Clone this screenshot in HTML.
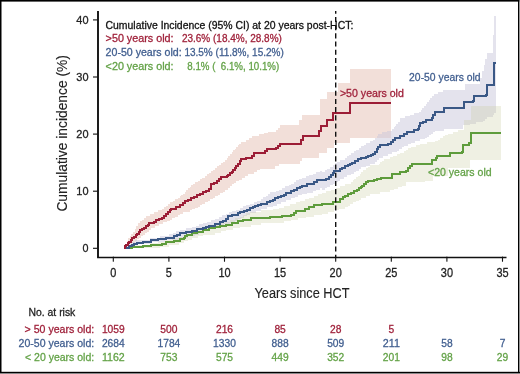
<!DOCTYPE html>
<html><head><meta charset="utf-8"><style>
html,body{margin:0;padding:0;background:#fff;}
body{width:520px;height:374px;overflow:hidden;position:relative;}
svg{position:absolute;left:0;top:0;font-family:"Liberation Sans",sans-serif;will-change:transform;}
</style></head><body>
<svg width="520" height="374" viewBox="0 0 520 374" shape-rendering="geometricPrecision">
<rect x="0" y="0" width="520" height="374" fill="#fff"/>
<polygon points="124.0,248.0 126.0,248.0 126.0,245.0 127.0,245.0 127.0,241.0 128.0,241.0 128.0,238.0 130.0,238.0 130.0,236.0 131.0,236.0 131.0,234.0 133.0,234.0 133.0,232.0 135.0,232.0 135.0,229.0 136.0,229.0 136.0,226.0 138.0,226.0 138.0,223.0 140.0,223.0 140.0,221.0 142.0,221.0 142.0,220.0 144.0,220.0 144.0,218.0 146.0,218.0 146.0,216.0 150.0,216.0 150.0,214.0 154.0,214.0 154.0,212.0 158.0,212.0 158.0,210.0 162.0,210.0 162.0,209.0 164.0,209.0 164.0,207.0 166.0,207.0 166.0,206.0 168.0,206.0 168.0,204.0 170.0,204.0 170.0,202.0 173.0,202.0 173.0,201.0 175.0,201.0 175.0,199.0 178.0,199.0 178.0,198.0 180.0,198.0 180.0,196.0 181.0,196.0 181.0,195.0 183.0,195.0 183.0,194.0 185.0,194.0 185.0,192.0 186.0,192.0 186.0,190.0 188.0,190.0 188.0,188.0 190.0,188.0 190.0,187.0 191.0,187.0 191.0,185.0 193.0,185.0 193.0,184.0 195.0,184.0 195.0,182.0 198.0,182.0 198.0,181.0 200.0,181.0 200.0,179.0 202.0,179.0 202.0,178.0 205.0,178.0 205.0,176.0 207.0,176.0 207.0,174.0 209.0,174.0 209.0,173.0 211.0,173.0 211.0,171.0 213.0,171.0 213.0,170.0 215.0,170.0 215.0,168.0 217.0,168.0 217.0,166.0 219.0,166.0 219.0,165.0 221.0,165.0 221.0,163.0 223.0,163.0 223.0,162.0 225.0,162.0 225.0,160.0 227.0,160.0 227.0,158.0 228.0,158.0 228.0,156.0 230.0,156.0 230.0,154.0 232.0,154.0 232.0,152.0 233.0,152.0 233.0,150.0 235.0,150.0 235.0,149.0 236.0,149.0 236.0,147.0 238.0,147.0 238.0,145.0 239.0,145.0 239.0,144.0 241.0,144.0 241.0,142.0 246.0,142.0 246.0,140.0 249.0,140.0 249.0,138.0 252.0,138.0 252.0,136.0 259.0,136.0 259.0,134.0 264.0,134.0 264.0,133.0 268.0,133.0 268.0,132.0 276.0,132.0 276.0,130.0 278.0,130.0 278.0,128.0 280.0,128.0 280.0,125.0 299.0,125.0 299.0,120.0 302.0,120.0 302.0,115.0 320.0,115.0 320.0,99.0 327.0,99.0 327.0,92.0 338.0,92.0 338.0,83.0 350.0,83.0 350.0,69.0 391.0,69.0 391.0,138.0 350.0,138.0 350.0,143.0 334.0,143.0 334.0,148.0 327.0,148.0 327.0,153.0 319.0,153.0 319.0,158.0 302.0,158.0 302.0,161.0 300.0,161.0 300.0,164.0 279.0,164.0 279.0,166.0 275.0,166.0 275.0,168.0 275.0,169.0 260.0,169.0 260.0,170.0 257.0,170.0 257.0,172.0 254.0,172.0 254.0,174.0 248.0,174.0 248.0,176.0 245.0,176.0 245.0,178.0 242.0,178.0 242.0,180.0 239.0,180.0 239.0,181.0 236.0,181.0 236.0,183.0 234.0,183.0 234.0,184.0 232.0,184.0 232.0,186.0 230.0,186.0 230.0,188.0 228.0,188.0 228.0,190.0 225.0,190.0 225.0,192.0 223.0,192.0 223.0,193.0 220.0,193.0 220.0,195.0 218.0,195.0 218.0,196.0 215.0,196.0 215.0,198.0 213.0,198.0 213.0,199.0 210.0,199.0 210.0,201.0 208.0,201.0 208.0,202.0 205.0,202.0 205.0,204.0 202.0,204.0 202.0,205.0 200.0,205.0 200.0,207.0 198.0,207.0 198.0,208.0 195.0,208.0 195.0,209.0 192.0,209.0 192.0,210.0 190.0,210.0 190.0,212.0 183.0,212.0 183.0,214.0 180.0,214.0 180.0,215.0 178.0,215.0 178.0,217.0 175.0,217.0 175.0,218.0 172.0,218.0 172.0,220.0 170.0,220.0 170.0,221.0 167.0,221.0 167.0,222.0 163.0,222.0 163.0,224.0 159.0,224.0 159.0,226.0 155.0,226.0 155.0,228.0 151.0,228.0 151.0,230.0 149.0,230.0 149.0,232.0 147.0,232.0 147.0,233.0 145.0,233.0 145.0,235.0 143.0,235.0 143.0,236.0 141.0,236.0 141.0,238.0 139.0,238.0 139.0,239.0 137.0,239.0 137.0,241.0 135.0,241.0 135.0,243.0 132.0,243.0 132.0,244.0 129.0,244.0 129.0,246.0 127.0,246.0 127.0,248.0 124.0,248.0" fill="#f2dfd9"/>
<polygon points="124.0,248.0 125.0,248.0 125.0,246.0 128.0,246.0 128.0,244.0 132.0,244.0 132.0,242.0 135.0,242.0 135.0,240.0 150.0,240.0 150.0,238.0 160.0,238.0 160.0,236.0 169.0,236.0 169.0,234.0 173.0,234.0 173.0,233.0 176.0,233.0 176.0,231.0 180.0,231.0 180.0,230.0 186.0,230.0 186.0,228.0 192.0,228.0 192.0,227.0 196.0,227.0 196.0,226.0 199.0,226.0 199.0,224.0 203.0,224.0 203.0,223.0 207.0,223.0 207.0,222.0 211.0,222.0 211.0,220.0 215.0,220.0 215.0,219.0 219.0,219.0 219.0,217.0 222.0,217.0 222.0,215.0 226.0,215.0 226.0,214.0 229.0,214.0 229.0,212.0 232.0,212.0 232.0,211.0 236.0,211.0 236.0,210.0 240.0,210.0 240.0,208.0 243.0,208.0 243.0,206.0 246.0,206.0 246.0,205.0 250.0,205.0 250.0,204.0 254.0,204.0 254.0,202.0 257.0,202.0 257.0,201.0 261.0,201.0 261.0,199.0 263.0,199.0 263.0,197.0 266.0,197.0 266.0,196.0 268.0,196.0 268.0,194.0 270.0,194.0 270.0,192.0 276.0,192.0 276.0,191.0 279.0,191.0 279.0,190.0 282.0,190.0 282.0,188.0 285.0,188.0 285.0,186.0 289.0,186.0 289.0,185.0 291.0,185.0 291.0,184.0 294.0,184.0 294.0,182.0 296.0,182.0 296.0,180.0 299.0,180.0 299.0,179.0 302.0,179.0 302.0,178.0 306.0,178.0 306.0,176.0 309.0,176.0 309.0,175.0 313.0,175.0 313.0,174.0 316.0,174.0 316.0,172.0 320.0,172.0 320.0,171.0 322.0,171.0 322.0,172.0 325.0,172.0 325.0,170.0 327.0,170.0 327.0,169.0 330.0,169.0 330.0,167.0 333.0,167.0 333.0,165.0 335.0,165.0 335.0,163.0 337.0,163.0 337.0,162.0 340.0,162.0 340.0,160.0 345.0,160.0 345.0,158.0 347.0,158.0 347.0,156.0 349.0,156.0 349.0,155.0 351.0,155.0 351.0,153.0 354.0,153.0 354.0,151.0 356.0,151.0 356.0,150.0 359.0,150.0 359.0,148.0 361.0,148.0 361.0,146.0 364.0,146.0 364.0,145.0 366.0,145.0 366.0,143.0 370.0,143.0 370.0,141.0 373.0,141.0 373.0,140.0 375.0,140.0 375.0,138.0 377.0,138.0 377.0,136.0 378.0,136.0 378.0,134.0 382.0,134.0 382.0,132.0 387.0,132.0 387.0,131.0 392.0,131.0 392.0,129.0 394.0,129.0 394.0,127.0 395.0,127.0 395.0,126.0 396.0,126.0 396.0,124.0 398.0,124.0 398.0,122.0 400.0,122.0 400.0,118.0 405.0,118.0 405.0,116.0 410.0,116.0 410.0,115.0 414.0,115.0 414.0,113.0 419.0,113.0 419.0,112.0 421.0,112.0 421.0,110.0 422.0,110.0 422.0,108.0 424.0,108.0 424.0,106.0 426.0,106.0 426.0,104.0 427.0,104.0 427.0,102.0 429.0,102.0 429.0,100.0 430.0,100.0 430.0,98.0 432.0,98.0 432.0,96.0 434.0,96.0 434.0,94.0 438.0,94.0 438.0,92.0 443.0,92.0 443.0,90.0 464.0,90.0 465.0,90.0 465.0,84.0 479.0,84.0 480.0,84.0 480.0,78.0 482.0,78.0 482.0,71.0 484.0,71.0 484.0,65.0 485.0,65.0 485.0,59.0 487.0,59.0 487.0,53.0 493.0,53.0 493.0,52.0 493.0,35.0 494.0,35.0 494.0,34.0 494.0,16.0 496.0,16.0 496.0,111.0 496.0,113.0 494.0,113.0 494.0,115.0 493.0,115.0 493.0,117.0 487.0,117.0 487.0,119.0 485.0,119.0 485.0,121.0 483.0,121.0 483.0,122.0 476.0,122.0 476.0,124.0 470.0,124.0 470.0,125.0 463.0,125.0 463.0,129.0 444.0,129.0 444.0,131.0 435.0,131.0 435.0,132.0 433.0,132.0 433.0,134.0 431.0,134.0 431.0,135.0 429.0,135.0 429.0,137.0 427.0,137.0 427.0,138.0 425.0,138.0 425.0,139.0 420.0,139.0 420.0,141.0 415.0,141.0 415.0,143.0 411.0,143.0 411.0,144.0 408.0,144.0 408.0,146.0 404.0,146.0 404.0,147.0 402.0,147.0 402.0,149.0 399.0,149.0 399.0,151.0 397.0,151.0 397.0,152.0 392.0,152.0 392.0,154.0 388.0,154.0 388.0,156.0 383.0,156.0 383.0,158.0 379.0,158.0 379.0,160.0 377.0,160.0 377.0,162.0 375.0,162.0 375.0,164.0 370.0,164.0 370.0,166.0 366.0,166.0 366.0,167.0 361.0,167.0 361.0,169.0 359.0,169.0 359.0,171.0 356.0,171.0 356.0,172.0 354.0,172.0 354.0,174.0 351.0,174.0 351.0,175.0 347.0,175.0 347.0,177.0 344.0,177.0 344.0,179.0 340.0,179.0 340.0,181.0 338.0,181.0 338.0,182.0 335.0,182.0 335.0,184.0 333.0,184.0 333.0,185.0 330.0,185.0 330.0,187.0 327.0,187.0 327.0,188.0 325.0,188.0 325.0,190.0 322.0,190.0 322.0,188.0 320.0,188.0 320.0,190.0 316.0,190.0 316.0,191.0 313.0,191.0 313.0,193.0 307.0,193.0 307.0,194.0 302.0,194.0 302.0,195.0 298.0,195.0 298.0,197.0 295.0,197.0 295.0,198.0 291.0,198.0 291.0,200.0 286.0,200.0 286.0,202.0 281.0,202.0 281.0,204.0 277.0,204.0 277.0,206.0 273.0,206.0 273.0,207.0 267.0,207.0 267.0,209.0 261.0,209.0 261.0,211.0 256.0,211.0 256.0,213.0 250.0,213.0 250.0,215.0 247.0,215.0 247.0,216.0 244.0,216.0 244.0,218.0 241.0,218.0 241.0,219.0 238.0,219.0 238.0,221.0 235.0,221.0 235.0,223.0 230.0,223.0 230.0,224.0 224.0,224.0 224.0,226.0 219.0,226.0 219.0,228.0 214.0,228.0 214.0,229.0 208.0,229.0 208.0,231.0 203.0,231.0 203.0,233.0 199.0,233.0 199.0,235.0 195.0,235.0 195.0,236.0 188.0,236.0 188.0,238.0 180.0,238.0 180.0,240.0 165.0,240.0 165.0,242.0 150.0,242.0 150.0,244.0 135.0,244.0 135.0,246.0 130.0,246.0 130.0,248.0 124.0,248.0" fill="rgb(201,199,219)" fill-opacity="0.5"/>
<polygon points="124.0,248.0 130.0,248.0 130.0,246.0 135.0,246.0 135.0,245.0 150.0,245.0 150.0,243.0 158.0,243.0 158.0,242.0 165.0,242.0 165.0,240.0 172.0,240.0 172.0,238.0 180.0,238.0 180.0,237.0 185.0,237.0 185.0,236.0 190.0,236.0 190.0,234.0 195.0,234.0 195.0,232.0 200.0,232.0 200.0,231.0 204.0,231.0 204.0,229.0 208.0,229.0 208.0,228.0 212.0,228.0 212.0,226.0 216.0,226.0 216.0,225.0 220.0,225.0 220.0,223.0 225.0,223.0 225.0,222.0 230.0,222.0 230.0,220.0 235.0,220.0 235.0,218.0 240.0,218.0 240.0,217.0 243.0,217.0 243.0,215.0 246.0,215.0 246.0,213.0 250.0,213.0 250.0,212.0 261.0,212.0 261.0,210.0 273.0,210.0 273.0,209.0 279.0,209.0 279.0,208.0 284.0,208.0 284.0,206.0 290.0,206.0 290.0,204.0 296.0,204.0 296.0,202.0 300.0,202.0 300.0,201.0 305.0,201.0 305.0,199.0 309.0,199.0 309.0,198.0 314.0,198.0 314.0,196.0 318.0,196.0 318.0,194.0 322.0,194.0 322.0,193.0 326.0,193.0 326.0,191.0 331.0,191.0 331.0,190.0 336.0,190.0 336.0,188.0 340.0,188.0 340.0,186.0 345.0,186.0 345.0,184.0 351.0,184.0 351.0,182.0 353.0,182.0 353.0,180.0 354.0,180.0 354.0,179.0 356.0,179.0 356.0,177.0 358.0,177.0 358.0,176.0 360.0,176.0 360.0,174.0 361.0,174.0 361.0,172.0 363.0,172.0 363.0,170.0 366.0,170.0 366.0,168.0 368.0,168.0 368.0,167.0 370.0,167.0 370.0,165.0 379.0,165.0 379.0,164.0 380.0,164.0 380.0,162.0 382.0,162.0 382.0,161.0 384.0,161.0 384.0,159.0 390.0,159.0 390.0,157.0 393.0,157.0 393.0,156.0 397.0,156.0 397.0,154.0 400.0,154.0 400.0,153.0 404.0,153.0 404.0,151.0 406.0,151.0 406.0,150.0 408.0,150.0 408.0,148.0 411.0,148.0 411.0,147.0 416.0,147.0 416.0,145.0 420.0,145.0 420.0,144.0 427.0,144.0 427.0,142.0 435.0,142.0 435.0,141.0 438.0,141.0 438.0,140.0 440.0,140.0 440.0,138.0 443.0,138.0 443.0,136.0 445.0,136.0 445.0,135.0 448.0,135.0 448.0,134.0 453.0,134.0 453.0,132.0 458.0,132.0 458.0,130.0 464.0,130.0 464.0,129.0 464.0,120.0 471.0,120.0 471.0,106.0 501.0,106.0 501.0,160.0 470.0,160.0 470.0,168.0 448.0,168.0 448.0,176.0 433.0,176.0 433.0,181.0 425.0,181.0 425.0,182.0 406.0,182.0 406.0,184.0 406.0,186.0 402.0,186.0 402.0,187.0 398.0,187.0 398.0,189.0 394.0,189.0 394.0,190.0 390.0,190.0 390.0,192.0 380.0,192.0 380.0,194.0 370.0,194.0 370.0,196.0 366.0,196.0 366.0,198.0 361.0,198.0 361.0,200.0 359.0,200.0 359.0,201.0 356.0,201.0 356.0,202.0 353.0,202.0 353.0,204.0 350.0,204.0 350.0,206.0 348.0,206.0 348.0,207.0 345.0,207.0 345.0,209.0 339.0,209.0 339.0,210.0 334.0,210.0 334.0,212.0 328.0,212.0 328.0,214.0 322.0,214.0 322.0,215.0 314.0,215.0 314.0,217.0 306.0,217.0 306.0,218.0 298.0,218.0 298.0,220.0 291.0,220.0 291.0,221.0 284.0,221.0 284.0,223.0 261.0,223.0 261.0,225.0 251.0,225.0 251.0,227.0 240.0,227.0 240.0,228.0 233.0,228.0 233.0,230.0 226.0,230.0 226.0,231.0 221.0,231.0 221.0,233.0 215.0,233.0 215.0,235.0 203.0,235.0 203.0,236.0 198.0,236.0 198.0,238.0 192.0,238.0 192.0,240.0 188.0,240.0 188.0,241.0 184.0,241.0 184.0,243.0 180.0,243.0 179.0,243.0 179.0,245.0 169.0,245.0 169.0,247.0 160.0,247.0 160.0,248.0 124.0,248.0" fill="rgb(202,205,162)" fill-opacity="0.3"/>
<path d="M124.0,248.0 L132.0,248.0 L132.0,247.0 L143.0,247.0 L143.0,246.0 L151.0,246.0 L151.0,245.0 L162.0,245.0 L162.0,244.0 L166.0,244.0 L166.0,242.0 L174.0,242.0 L174.0,241.0 L180.0,241.0 L180.0,239.0 L184.0,239.0 L184.0,238.0 L185.0,238.0 L185.0,236.0 L187.0,236.0 L187.0,235.0 L192.0,235.0 L192.0,233.0 L197.0,233.0 L197.0,232.0 L203.0,232.0 L203.0,230.0 L209.0,230.0 L209.0,228.0 L215.0,228.0 L215.0,227.0 L220.0,227.0 L220.0,226.0 L226.0,226.0 L226.0,225.0 L232.0,225.0 L232.0,223.0 L238.0,223.0 L238.0,221.0 L240.0,221.0 L243.0,221.0 L243.0,220.0 L251.0,220.0 L251.0,218.0 L259.0,218.0 L270.0,218.0 L270.0,217.0 L282.0,217.0 L282.0,216.0 L291.0,216.0 L291.0,215.0 L294.0,215.0 L294.0,213.0 L296.0,213.0 L296.0,211.0 L305.0,211.0 L305.0,209.0 L309.0,209.0 L309.0,207.0 L314.0,207.0 L314.0,205.0 L322.0,205.0 L322.0,204.0 L333.0,204.0 L333.0,202.0 L340.0,202.0 L340.0,199.0 L343.0,199.0 L343.0,197.0 L345.0,197.0 L345.0,196.0 L348.0,196.0 L348.0,194.0 L351.0,194.0 L351.0,193.0 L354.0,193.0 L354.0,191.0 L357.0,191.0 L357.0,190.0 L359.0,190.0 L359.0,188.0 L361.0,188.0 L361.0,187.0 L362.0,187.0 L362.0,186.0 L364.0,186.0 L364.0,184.0 L366.0,184.0 L366.0,182.0 L368.0,182.0 L368.0,181.0 L374.0,181.0 L374.0,180.0 L377.0,180.0 L377.0,179.0 L381.0,179.0 L381.0,178.0 L392.0,178.0 L392.0,176.0 L392.0,174.0 L400.0,174.0 L400.0,172.0 L406.0,172.0 L406.0,171.0 L408.0,171.0 L408.0,168.0 L410.0,168.0 L410.0,166.0 L412.0,166.0 L412.0,164.0 L432.0,164.0 L432.0,160.0 L436.0,160.0 L436.0,158.0 L437.0,158.0 L437.0,156.0 L449.0,156.0 L450.0,156.0 L450.0,153.0 L462.0,153.0 L462.0,152.0 L463.0,152.0 L463.0,147.0 L463.0,145.0 L469.0,145.0 L469.0,143.0 L471.0,143.0 L471.0,133.0 L501.0,133.0" fill="none" stroke="#5e9c3c" stroke-width="2" stroke-linejoin="miter" stroke-linecap="butt"/>
<path d="M124.0,248.0 L125.0,248.0 L129.0,248.0 L129.0,246.0 L132.0,246.0 L132.0,245.0 L134.0,245.0 L134.0,244.0 L137.0,244.0 L137.0,243.0 L143.0,243.0 L143.0,242.0 L151.0,242.0 L151.0,240.0 L158.0,240.0 L158.0,239.0 L166.0,239.0 L166.0,238.0 L174.0,238.0 L174.0,236.0 L177.0,236.0 L177.0,235.0 L180.0,235.0 L180.0,233.0 L186.0,233.0 L186.0,232.0 L192.0,232.0 L192.0,231.0 L197.0,231.0 L197.0,229.0 L203.0,229.0 L203.0,228.0 L206.0,228.0 L206.0,227.0 L209.0,227.0 L209.0,226.0 L215.0,226.0 L215.0,224.0 L220.0,224.0 L220.0,222.0 L223.0,222.0 L223.0,221.0 L226.0,221.0 L226.0,219.0 L228.0,219.0 L228.0,216.0 L232.0,216.0 L232.0,215.0 L238.0,215.0 L238.0,213.0 L240.0,213.0 L240.0,212.0 L244.0,212.0 L244.0,211.0 L247.0,211.0 L247.0,210.0 L250.0,210.0 L250.0,208.0 L253.0,208.0 L253.0,207.0 L255.0,207.0 L255.0,206.0 L258.0,206.0 L258.0,205.0 L261.0,205.0 L261.0,204.0 L267.0,204.0 L267.0,202.0 L270.0,202.0 L270.0,201.0 L273.0,201.0 L273.0,200.0 L275.0,200.0 L275.0,198.0 L278.0,198.0 L278.0,197.0 L281.0,197.0 L281.0,196.0 L284.0,196.0 L284.0,195.0 L286.0,195.0 L286.0,193.0 L291.0,193.0 L291.0,191.0 L294.0,191.0 L294.0,190.0 L297.0,190.0 L297.0,188.0 L300.0,188.0 L300.0,187.0 L302.0,187.0 L302.0,186.0 L307.0,186.0 L307.0,184.0 L313.0,184.0 L314.0,184.0 L314.0,182.0 L317.0,182.0 L317.0,180.0 L320.0,180.0 L322.0,180.0 L326.0,180.0 L326.0,179.0 L329.0,179.0 L329.0,177.0 L331.0,177.0 L331.0,175.0 L333.0,175.0 L333.0,173.0 L334.0,173.0 L334.0,171.0 L340.0,171.0 L340.0,169.0 L342.0,169.0 L342.0,168.0 L345.0,168.0 L345.0,166.0 L348.0,166.0 L348.0,165.0 L350.0,165.0 L350.0,164.0 L352.0,164.0 L352.0,163.0 L355.0,163.0 L355.0,161.0 L358.0,161.0 L358.0,159.0 L361.0,159.0 L361.0,158.0 L366.0,158.0 L366.0,157.0 L368.0,157.0 L368.0,156.0 L371.0,156.0 L371.0,155.0 L373.0,155.0 L373.0,154.0 L375.0,154.0 L375.0,152.0 L377.0,152.0 L377.0,149.0 L378.0,149.0 L378.0,147.0 L380.0,147.0 L380.0,145.0 L386.0,145.0 L388.0,145.0 L388.0,144.0 L391.0,144.0 L391.0,142.0 L393.0,142.0 L393.0,140.0 L395.0,140.0 L395.0,138.0 L400.0,138.0 L400.0,136.0 L404.0,136.0 L404.0,134.0 L407.0,134.0 L407.0,132.0 L414.0,132.0 L414.0,130.0 L418.0,130.0 L418.0,129.0 L419.0,129.0 L419.0,126.0 L420.0,126.0 L420.0,123.0 L423.0,123.0 L423.0,122.0 L426.0,122.0 L426.0,120.0 L432.0,120.0 L432.0,118.0 L433.0,118.0 L433.0,115.0 L435.0,115.0 L435.0,112.0 L444.0,112.0 L444.0,108.0 L464.0,108.0 L464.0,102.0 L473.0,102.0 L473.0,101.0 L474.0,101.0 L474.0,96.0 L486.0,96.0 L486.0,95.0 L487.0,95.0 L487.0,85.0 L494.0,85.0 L494.0,84.0 L494.0,63.0 L496.0,63.0" fill="none" stroke="#3a5886" stroke-width="2" stroke-linejoin="miter" stroke-linecap="butt"/>
<path d="M124.0,248.0 L125.0,248.0 L125.0,246.0 L126.0,246.0 L126.0,245.0 L128.0,245.0 L128.0,243.0 L129.0,243.0 L129.0,242.0 L131.0,242.0 L131.0,240.0 L132.0,240.0 L132.0,238.0 L134.0,238.0 L134.0,237.0 L136.0,237.0 L136.0,235.0 L137.0,235.0 L137.0,234.0 L139.0,234.0 L139.0,232.0 L140.0,232.0 L140.0,230.0 L142.0,230.0 L142.0,229.0 L144.0,229.0 L144.0,228.0 L146.0,228.0 L146.0,226.0 L148.0,226.0 L148.0,225.0 L149.0,225.0 L149.0,223.0 L154.0,223.0 L154.0,222.0 L156.0,222.0 L156.0,220.0 L159.0,220.0 L159.0,219.0 L162.0,219.0 L162.0,218.0 L164.0,218.0 L164.0,216.0 L166.0,216.0 L166.0,214.0 L168.0,214.0 L168.0,212.0 L170.0,212.0 L170.0,210.0 L171.0,210.0 L171.0,209.0 L176.0,209.0 L176.0,207.0 L180.0,207.0 L180.0,205.0 L183.0,205.0 L183.0,203.0 L185.0,203.0 L185.0,201.0 L188.0,201.0 L188.0,200.0 L191.0,200.0 L191.0,198.0 L194.0,198.0 L194.0,197.0 L197.0,197.0 L197.0,195.0 L200.0,195.0 L200.0,194.0 L203.0,194.0 L203.0,192.0 L206.0,192.0 L206.0,191.0 L209.0,191.0 L209.0,189.0 L211.0,189.0 L211.0,184.0 L214.0,184.0 L214.0,183.0 L217.0,183.0 L217.0,181.0 L219.0,181.0 L219.0,179.0 L221.0,179.0 L221.0,177.0 L227.0,177.0 L227.0,176.0 L228.0,176.0 L228.0,175.0 L230.0,175.0 L230.0,173.0 L232.0,173.0 L232.0,172.0 L233.0,172.0 L233.0,170.0 L235.0,170.0 L235.0,168.0 L236.0,168.0 L236.0,166.0 L238.0,166.0 L238.0,164.0 L240.0,164.0 L240.0,161.0 L241.0,161.0 L241.0,159.0 L246.0,159.0 L246.0,158.0 L252.0,158.0 L252.0,156.0 L254.0,156.0 L254.0,153.0 L265.0,153.0 L265.0,151.0 L267.0,151.0 L267.0,149.0 L276.0,149.0 L276.0,148.0 L278.0,148.0 L278.0,146.0 L280.0,146.0 L280.0,144.0 L299.0,144.0 L301.0,144.0 L301.0,140.0 L303.0,140.0 L303.0,136.0 L319.0,136.0 L319.0,131.0 L321.0,131.0 L321.0,126.0 L327.0,126.0 L327.0,120.0 L333.0,120.0 L333.0,113.0 L350.0,113.0 L350.0,103.0 L391.0,103.0" fill="none" stroke="#9c1d36" stroke-width="2" stroke-linejoin="miter" stroke-linecap="butt"/>
<line x1="335.7" y1="11" x2="335.7" y2="257" stroke="#111" stroke-width="1.4" stroke-dasharray="5.1 3.1" stroke-dashoffset="2.3"/>
<path d="M98,11 V257" fill="none" stroke="#111" stroke-width="1.9"/>
<path d="M97.05,257.5 H506.5" fill="none" stroke="#111" stroke-width="1.45"/>
<line x1="93" y1="248.30" x2="97.5" y2="248.30" stroke="#111" stroke-width="1.1"/>
<line x1="93" y1="191.20" x2="97.5" y2="191.20" stroke="#111" stroke-width="1.1"/>
<line x1="93" y1="134.10" x2="97.5" y2="134.10" stroke="#111" stroke-width="1.1"/>
<line x1="93" y1="77.00" x2="97.5" y2="77.00" stroke="#111" stroke-width="1.1"/>
<line x1="93" y1="19.90" x2="97.5" y2="19.90" stroke="#111" stroke-width="1.1"/>
<line x1="113.30" y1="257" x2="113.30" y2="261.3" stroke="#111" stroke-width="1.1" stroke-linecap="round"/>
<line x1="168.90" y1="257" x2="168.90" y2="261.3" stroke="#111" stroke-width="1.1" stroke-linecap="round"/>
<line x1="224.50" y1="257" x2="224.50" y2="261.3" stroke="#111" stroke-width="1.1" stroke-linecap="round"/>
<line x1="280.10" y1="257" x2="280.10" y2="261.3" stroke="#111" stroke-width="1.1" stroke-linecap="round"/>
<line x1="335.70" y1="257" x2="335.70" y2="261.3" stroke="#111" stroke-width="1.1" stroke-linecap="round"/>
<line x1="391.30" y1="257" x2="391.30" y2="261.3" stroke="#111" stroke-width="1.1" stroke-linecap="round"/>
<line x1="446.90" y1="257" x2="446.90" y2="261.3" stroke="#111" stroke-width="1.1" stroke-linecap="round"/>
<line x1="502.50" y1="257" x2="502.50" y2="261.3" stroke="#111" stroke-width="1.1" stroke-linecap="round"/>
<text x="88.5" y="252.3" font-size="11.6" fill="#222" stroke="#222" stroke-width="0.28" text-anchor="end" textLength="6.0" lengthAdjust="spacingAndGlyphs" xml:space="preserve">0</text>
<text x="88.5" y="195.2" font-size="11.6" fill="#222" stroke="#222" stroke-width="0.28" text-anchor="end" textLength="12.2" lengthAdjust="spacingAndGlyphs" xml:space="preserve">10</text>
<text x="88.5" y="138.1" font-size="11.6" fill="#222" stroke="#222" stroke-width="0.28" text-anchor="end" textLength="12.2" lengthAdjust="spacingAndGlyphs" xml:space="preserve">20</text>
<text x="88.5" y="81.0" font-size="11.6" fill="#222" stroke="#222" stroke-width="0.28" text-anchor="end" textLength="12.2" lengthAdjust="spacingAndGlyphs" xml:space="preserve">30</text>
<text x="88.5" y="23.9" font-size="11.6" fill="#222" stroke="#222" stroke-width="0.28" text-anchor="end" textLength="12.2" lengthAdjust="spacingAndGlyphs" xml:space="preserve">40</text>
<text x="113.3" y="276.6" font-size="12" fill="#222" stroke="#222" stroke-width="0.28" text-anchor="middle" textLength="6.1" lengthAdjust="spacingAndGlyphs" xml:space="preserve">0</text>
<text x="168.9" y="276.6" font-size="12" fill="#222" stroke="#222" stroke-width="0.28" text-anchor="middle" textLength="6.1" lengthAdjust="spacingAndGlyphs" xml:space="preserve">5</text>
<text x="224.5" y="276.6" font-size="12" fill="#222" stroke="#222" stroke-width="0.28" text-anchor="middle" textLength="12.2" lengthAdjust="spacingAndGlyphs" xml:space="preserve">10</text>
<text x="280.1" y="276.6" font-size="12" fill="#222" stroke="#222" stroke-width="0.28" text-anchor="middle" textLength="12.2" lengthAdjust="spacingAndGlyphs" xml:space="preserve">15</text>
<text x="335.7" y="276.6" font-size="12" fill="#222" stroke="#222" stroke-width="0.28" text-anchor="middle" textLength="12.2" lengthAdjust="spacingAndGlyphs" xml:space="preserve">20</text>
<text x="391.3" y="276.6" font-size="12" fill="#222" stroke="#222" stroke-width="0.28" text-anchor="middle" textLength="12.2" lengthAdjust="spacingAndGlyphs" xml:space="preserve">25</text>
<text x="446.9" y="276.6" font-size="12" fill="#222" stroke="#222" stroke-width="0.28" text-anchor="middle" textLength="12.2" lengthAdjust="spacingAndGlyphs" xml:space="preserve">30</text>
<text x="502.5" y="276.6" font-size="12" fill="#222" stroke="#222" stroke-width="0.28" text-anchor="middle" textLength="12.2" lengthAdjust="spacingAndGlyphs" xml:space="preserve">35</text>
<text x="254.5" y="297.9" font-size="14" fill="#222" stroke="#222" stroke-width="0.12" textLength="95" lengthAdjust="spacingAndGlyphs" xml:space="preserve">Years since HCT</text>
<g transform="translate(66.9,211.6) rotate(-90)"><text x="0" y="0" font-size="14" fill="#222" stroke="#222" stroke-width="0.12" textLength="156.5" lengthAdjust="spacingAndGlyphs" xml:space="preserve">Cumulative incidence (%)</text></g>
<text x="105.5" y="28.5" font-size="10.2" fill="#111" stroke="#111" stroke-width="0.28" textLength="247.8" lengthAdjust="spacingAndGlyphs" xml:space="preserve">Cumulative Incidence (95% CI) at 20 years post-HCT:</text>
<text x="105.6" y="42.4" font-size="10.2" fill="#a0223b" stroke="#a0223b" stroke-width="0.28" textLength="68" lengthAdjust="spacingAndGlyphs" xml:space="preserve">&gt;50 years old:</text>
<text x="105.6" y="56.3" font-size="10.2" fill="#405e8f" stroke="#405e8f" stroke-width="0.28" textLength="76" lengthAdjust="spacingAndGlyphs" xml:space="preserve">20-50 years old:</text>
<text x="105.6" y="70.2" font-size="10.2" fill="#63a247" stroke="#63a247" stroke-width="0.28" textLength="68" lengthAdjust="spacingAndGlyphs" xml:space="preserve">&lt;20 years old:</text>
<text x="181.9" y="42.4" font-size="10.2" fill="#a0223b" stroke="#a0223b" stroke-width="0.28" textLength="100" lengthAdjust="spacingAndGlyphs" xml:space="preserve">23.6% (18.4%, 28.8%)</text>
<text x="184.4" y="56.3" font-size="10.2" fill="#405e8f" stroke="#405e8f" stroke-width="0.28" textLength="99.4" lengthAdjust="spacingAndGlyphs" xml:space="preserve">13.5% (11.8%, 15.2%)</text>
<text x="187.3" y="70.2" font-size="10.2" fill="#63a247" stroke="#63a247" stroke-width="0.28" textLength="91.9" lengthAdjust="spacingAndGlyphs" xml:space="preserve">8.1% (  6.1%, 10.1%)</text>
<text x="339.9" y="96.5" font-size="10.5" fill="#a0223b" stroke="#a0223b" stroke-width="0.28" textLength="64" lengthAdjust="spacingAndGlyphs" xml:space="preserve">&gt;50 years old</text>
<text x="409.1" y="81.2" font-size="10.5" fill="#405e8f" stroke="#405e8f" stroke-width="0.28" textLength="71.5" lengthAdjust="spacingAndGlyphs" xml:space="preserve">20-50 years old</text>
<text x="428" y="176.1" font-size="10.5" fill="#63a247" stroke="#63a247" stroke-width="0.28" textLength="63.6" lengthAdjust="spacingAndGlyphs" xml:space="preserve">&lt;20 years old</text>
<text x="28.5" y="315.7" font-size="11" fill="#222" stroke="#222" stroke-width="0.28" textLength="46.8" lengthAdjust="spacingAndGlyphs" xml:space="preserve">No. at risk</text>
<text x="94.2" y="332.9" font-size="10.5" fill="#a0223b" stroke="#a0223b" stroke-width="0.28" text-anchor="end" textLength="69.6" lengthAdjust="spacingAndGlyphs" xml:space="preserve">&gt; 50 years old:</text>
<text x="94.2" y="346.8" font-size="10.5" fill="#405e8f" stroke="#405e8f" stroke-width="0.28" text-anchor="end" textLength="75.6" lengthAdjust="spacingAndGlyphs" xml:space="preserve">20-50 years old:</text>
<text x="94.2" y="360.6" font-size="10.5" fill="#63a247" stroke="#63a247" stroke-width="0.28" text-anchor="end" textLength="69.2" lengthAdjust="spacingAndGlyphs" xml:space="preserve">&lt; 20 years old:</text>
<text x="113.3" y="332.9" font-size="10.3" fill="#a0223b" stroke="#a0223b" stroke-width="0.28" text-anchor="middle" textLength="22.8" lengthAdjust="spacingAndGlyphs" xml:space="preserve">1059</text>
<text x="168.9" y="332.9" font-size="10.3" fill="#a0223b" stroke="#a0223b" stroke-width="0.28" text-anchor="middle" textLength="17.1" lengthAdjust="spacingAndGlyphs" xml:space="preserve">500</text>
<text x="224.5" y="332.9" font-size="10.3" fill="#a0223b" stroke="#a0223b" stroke-width="0.28" text-anchor="middle" textLength="17.1" lengthAdjust="spacingAndGlyphs" xml:space="preserve">216</text>
<text x="280.1" y="332.9" font-size="10.3" fill="#a0223b" stroke="#a0223b" stroke-width="0.28" text-anchor="middle" textLength="11.4" lengthAdjust="spacingAndGlyphs" xml:space="preserve">85</text>
<text x="335.7" y="332.9" font-size="10.3" fill="#a0223b" stroke="#a0223b" stroke-width="0.28" text-anchor="middle" textLength="11.4" lengthAdjust="spacingAndGlyphs" xml:space="preserve">28</text>
<text x="391.3" y="332.9" font-size="10.3" fill="#a0223b" stroke="#a0223b" stroke-width="0.28" text-anchor="middle" textLength="5.7" lengthAdjust="spacingAndGlyphs" xml:space="preserve">5</text>
<text x="113.3" y="346.8" font-size="10.3" fill="#405e8f" stroke="#405e8f" stroke-width="0.28" text-anchor="middle" textLength="22.8" lengthAdjust="spacingAndGlyphs" xml:space="preserve">2684</text>
<text x="168.9" y="346.8" font-size="10.3" fill="#405e8f" stroke="#405e8f" stroke-width="0.28" text-anchor="middle" textLength="22.8" lengthAdjust="spacingAndGlyphs" xml:space="preserve">1784</text>
<text x="224.5" y="346.8" font-size="10.3" fill="#405e8f" stroke="#405e8f" stroke-width="0.28" text-anchor="middle" textLength="22.8" lengthAdjust="spacingAndGlyphs" xml:space="preserve">1330</text>
<text x="280.1" y="346.8" font-size="10.3" fill="#405e8f" stroke="#405e8f" stroke-width="0.28" text-anchor="middle" textLength="17.1" lengthAdjust="spacingAndGlyphs" xml:space="preserve">888</text>
<text x="335.7" y="346.8" font-size="10.3" fill="#405e8f" stroke="#405e8f" stroke-width="0.28" text-anchor="middle" textLength="17.1" lengthAdjust="spacingAndGlyphs" xml:space="preserve">509</text>
<text x="391.3" y="346.8" font-size="10.3" fill="#405e8f" stroke="#405e8f" stroke-width="0.28" text-anchor="middle" textLength="17.1" lengthAdjust="spacingAndGlyphs" xml:space="preserve">211</text>
<text x="446.9" y="346.8" font-size="10.3" fill="#405e8f" stroke="#405e8f" stroke-width="0.28" text-anchor="middle" textLength="11.4" lengthAdjust="spacingAndGlyphs" xml:space="preserve">58</text>
<text x="502.5" y="346.8" font-size="10.3" fill="#405e8f" stroke="#405e8f" stroke-width="0.28" text-anchor="middle" textLength="5.7" lengthAdjust="spacingAndGlyphs" xml:space="preserve">7</text>
<text x="113.3" y="360.6" font-size="10.3" fill="#63a247" stroke="#63a247" stroke-width="0.28" text-anchor="middle" textLength="22.8" lengthAdjust="spacingAndGlyphs" xml:space="preserve">1162</text>
<text x="168.9" y="360.6" font-size="10.3" fill="#63a247" stroke="#63a247" stroke-width="0.28" text-anchor="middle" textLength="17.1" lengthAdjust="spacingAndGlyphs" xml:space="preserve">753</text>
<text x="224.5" y="360.6" font-size="10.3" fill="#63a247" stroke="#63a247" stroke-width="0.28" text-anchor="middle" textLength="17.1" lengthAdjust="spacingAndGlyphs" xml:space="preserve">575</text>
<text x="280.1" y="360.6" font-size="10.3" fill="#63a247" stroke="#63a247" stroke-width="0.28" text-anchor="middle" textLength="17.1" lengthAdjust="spacingAndGlyphs" xml:space="preserve">449</text>
<text x="335.7" y="360.6" font-size="10.3" fill="#63a247" stroke="#63a247" stroke-width="0.28" text-anchor="middle" textLength="17.1" lengthAdjust="spacingAndGlyphs" xml:space="preserve">352</text>
<text x="391.3" y="360.6" font-size="10.3" fill="#63a247" stroke="#63a247" stroke-width="0.28" text-anchor="middle" textLength="17.1" lengthAdjust="spacingAndGlyphs" xml:space="preserve">201</text>
<text x="446.9" y="360.6" font-size="10.3" fill="#63a247" stroke="#63a247" stroke-width="0.28" text-anchor="middle" textLength="11.4" lengthAdjust="spacingAndGlyphs" xml:space="preserve">98</text>
<text x="502.5" y="360.6" font-size="10.3" fill="#63a247" stroke="#63a247" stroke-width="0.28" text-anchor="middle" textLength="11.4" lengthAdjust="spacingAndGlyphs" xml:space="preserve">29</text>
<rect x="0" y="0" width="1.5" height="374" fill="#000"/>
<rect x="0" y="0" width="520" height="1.6" fill="#000"/>
<rect x="518" y="0" width="1.2" height="374" fill="#000"/>
<rect x="519.2" y="0" width="0.8" height="374" fill="#888"/>
<rect x="0" y="371.8" width="520" height="1.2" fill="#000"/>
<rect x="0" y="373" width="520" height="1" fill="#888"/>
</svg>
</body></html>
